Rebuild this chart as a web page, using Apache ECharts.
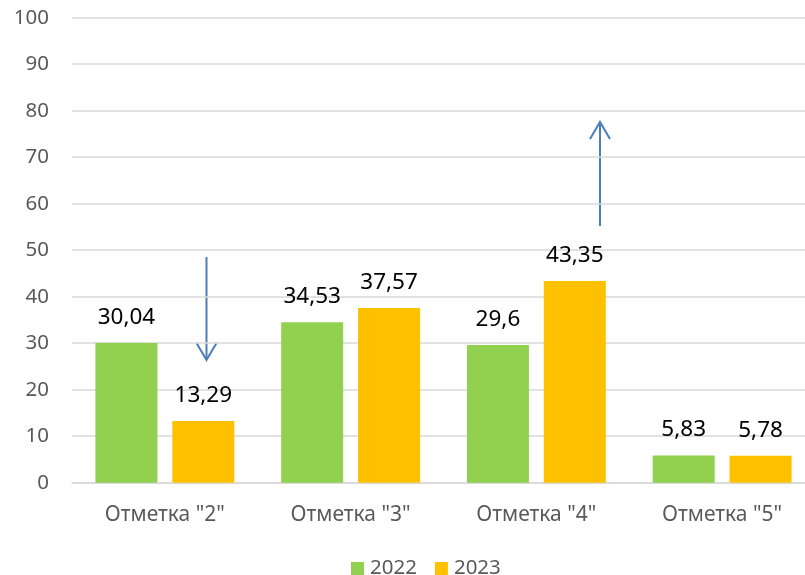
<!DOCTYPE html>
<html>
<head>
<meta charset="utf-8">
<script src="https://cdn.jsdelivr.net/npm/echarts@6/dist/echarts.min.js"></script>
<style>html,body{margin:0;padding:0;background:#fff}#c{width:805px;height:575px}</style>
</head>
<body>
<div id="c"></div>
<script>
const categories = ['Отметка "2"', 'Отметка "3"', 'Отметка "4"', 'Отметка "5"'];
const values2022 = [30.04, 34.53, 29.6, 5.83];
const values2023 = [13.29, 37.57, 43.35, 5.78];
const seriesNames = ['2022', '2023'];

const chart = echarts.init(document.getElementById('c'), null, {renderer: 'canvas'});
const FONT = 'Noto Sans';
const labelFmt = p => String(p.value).replace('.', ',');
const arrowColor = '#4A7EBB';

chart.setOption({
  animation: false,
  textStyle: {fontFamily: FONT},
  grid: {left: 72, width: 743, top: 17.7, bottom: 92.3, containLabel: false, outerBoundsMode: 'none'},
  legend: {
    data: seriesNames,
    left: 346, top: 553,
    icon: 'rect', itemWidth: 13, itemHeight: 13, itemGap: 18,
    textStyle: {fontFamily: FONT, fontSize: 20.5, color: '#595959', padding: [0, 0, 0, 1]}
  },
  xAxis: {
    type: 'category', data: categories,
    axisLine: {lineStyle: {color: '#D9D9D9', width: 1.5}},
    axisTick: {show: false},
    axisLabel: {fontFamily: FONT, fontSize: 21, color: '#595959', margin: 22}
  },
  yAxis: {
    type: 'value', min: 0, max: 100, interval: 10,
    axisLine: {show: false}, axisTick: {show: false},
    splitLine: {lineStyle: {color: '#D9D9D9', width: 1.5}},
    axisLabel: {fontFamily: FONT, fontSize: 20.5, color: '#595959', margin: 23}
  },
  series: [
    {name: seriesNames[0], type: 'bar', data: values2022, barWidth: 62, barGap: '24%',
     itemStyle: {color: '#92D050'},
     label: {show: true, position: 'top', distance: 14, fontFamily: FONT, fontSize: 22.5, color: '#000', formatter: labelFmt}},
    {name: seriesNames[1], type: 'bar', data: values2023, barWidth: 62, barGap: '24%',
     itemStyle: {color: '#FFC000'},
     label: {show: true, position: 'top', distance: 14, fontFamily: FONT, fontSize: 22.5, color: '#000', formatter: labelFmt}}
  ],
  graphic: [
    {type: 'line', shape: {x1: 206.5, y1: 257, x2: 206.5, y2: 359}, style: {stroke: arrowColor, lineWidth: 2}},
    {type: 'polyline', shape: {points: [[196.5, 343], [206.5, 360], [216.5, 343]]}, style: {stroke: arrowColor, lineWidth: 2, fill: null}},
    {type: 'line', shape: {x1: 600, y1: 123, x2: 600, y2: 226}, style: {stroke: arrowColor, lineWidth: 2}},
    {type: 'polyline', shape: {points: [[590, 139], [600, 122], [610, 139]]}, style: {stroke: arrowColor, lineWidth: 2, fill: null}}
  ]
});
</script>
</body>
</html>
